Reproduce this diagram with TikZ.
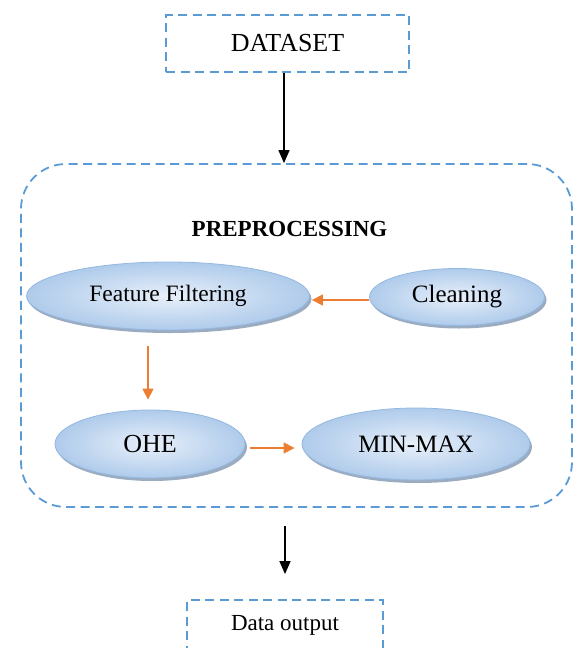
\documentclass[tikz,border=0pt]{standalone}
\usepackage{fontspec}
\setmainfont{Liberation Serif}
\usetikzlibrary{shapes.geometric,arrows.meta,shadows}
\definecolor{dashblue}{HTML}{5B9BD5}
\definecolor{orng}{HTML}{ED7D31}
\definecolor{ellin}{HTML}{E8F0FA}
\definecolor{ellout}{HTML}{AFCBEB}
\definecolor{elldraw}{HTML}{94B8E0}
\definecolor{shadowc}{HTML}{8397B0}
\tikzset{
  dbox/.style={draw=dashblue, line width=1.8pt, dash pattern=on 9pt off 5.5pt, rectangle, inner sep=0pt},
  ell/.style={ellipse, draw=elldraw, line width=0.8pt, shading=radial, inner color=ellin, outer color=ellout,
    drop shadow={shadow xshift=2pt, shadow yshift=-3pt, fill=shadowc, opacity=0.8}, inner sep=0pt},
  oarrow/.style={draw=orng, line width=1.3pt, -{Triangle[length=11pt,width=11pt]}},
  karrow/.style={draw=black, line width=1.3pt, -{Triangle[length=13pt,width=11pt]}},
}
\begin{document}
\begin{tikzpicture}[x=1pt,y=-1pt]
\useasboundingbox (0,0) rectangle (574,648);
\node[dbox, minimum width=243pt, minimum height=57pt, font=\fontsize{26}{30}\selectfont] (ds) at (287.5,43.5) {DATASET};
\node[dbox, rounded corners=45pt, minimum width=551pt, minimum height=343pt] (pre) at (296.5,335.5) {};
\node[font=\bfseries\fontsize{23}{27}\selectfont] (title) at (289.5,229) {PREPROCESSING};
\node[ell, minimum width=283pt, minimum height=68pt, font=\fontsize{23.5}{27}\selectfont] (ff) at (168,296) {Feature Filtering};
\node[ell, minimum width=175pt, minimum height=57pt, font=\fontsize{25}{29}\selectfont] (cl) at (457,297) {Cleaning};
\node[ell, minimum width=190pt, minimum height=68pt, font=\fontsize{26}{30}\selectfont] (ohe) at (150,444) {OHE};
\node[ell, minimum width=228pt, minimum height=72pt, font=\fontsize{25}{29}\selectfont] (mm) at (416,444) {MIN-MAX};
\node[dbox, minimum width=196pt, minimum height=70pt] (out) at (285,635) {};
\node[font=\fontsize{23}{27}\selectfont] (outlabel) at (285,625) {Data output};
\draw[karrow] (ds.south -| 284,0) -- (pre.north -| 284,0);
\draw[karrow, shorten <=18pt, shorten >=25pt] (pre.south -| 285,0) -- (out.north -| 285,0);
\draw[oarrow] (cl.west |- 0,300) -- ([xshift=2pt]ff.east |- 0,300);
\draw[oarrow, shorten <=16pt, shorten >=10pt] (ff.south -| 148,0) -- (ohe.north -| 148,0);
\draw[oarrow, shorten <=5pt, shorten >=7pt] ([yshift=-4pt]ohe.east) -- ([yshift=-4pt]mm.west);
\end{tikzpicture}
\end{document}
